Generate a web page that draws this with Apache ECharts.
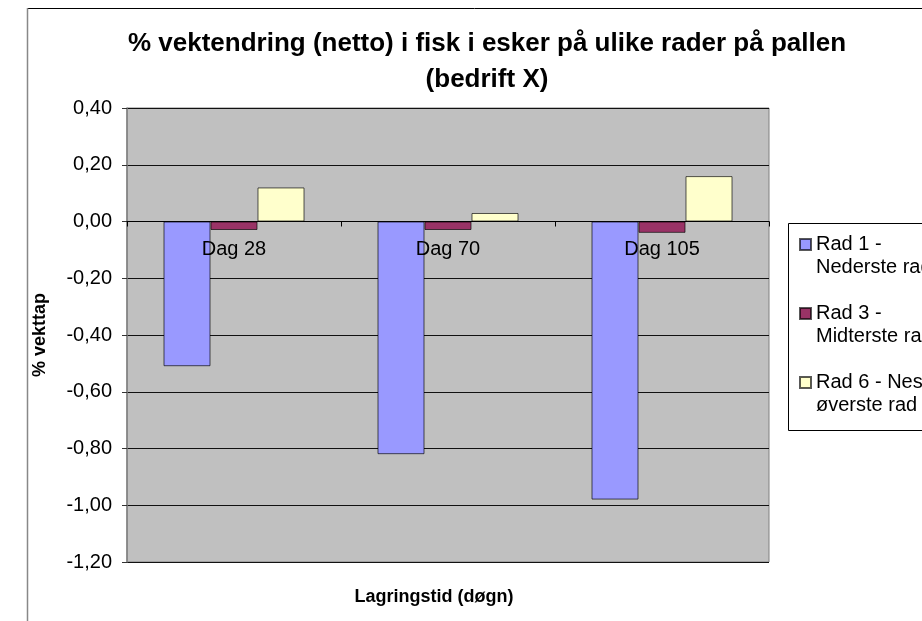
<!DOCTYPE html>
<html>
<head>
<meta charset="utf-8">
<script src="https://cdn.jsdelivr.net/npm/echarts@6/dist/echarts.min.js"></script>
<style>
  html, body { margin: 0; padding: 0; background: #fff; overflow: hidden; }
  #chart { width: 922px; height: 621px; }
</style>
</head>
<body>
<div id="chart"></div>
<script>
// data
const days = ['Dag 28', 'Dag 70', 'Dag 105'];
const rad1 = [-0.51, -0.82, -0.98];
const rad3 = [-0.03, -0.03, -0.04];
const rad6 = [0.12, 0.03, 0.16];
const seriesNames = ['Rad 1 - Nederste rad', 'Rad 3 - Midterste rad', 'Rad 6 - Nest øverste rad'];
const legendText = ['Rad 1 -\nNederste rad', 'Rad 3 -\nMidterste rad', 'Rad 6 - Nest\nøverste rad'];
const colors = ['#9999FF', '#993366', '#FFFFCC'];

const chart = echarts.init(document.getElementById('chart'));
const font = 'Liberation Sans, Arial, sans-serif';

const barStyle = (c) => ({ color: c, borderColor: 'rgba(0,0,0,0.65)', borderWidth: 1 });

const option = {
  animation: false,
  backgroundColor: '#fff',
  title: {
    text: '% vektendring (netto) i fisk i esker på ulike rader på pallen\n(bedrift X)',
    left: 487,
    top: 26,
    textAlign: 'center',
    padding: 0,
    textStyle: { fontFamily: font, fontSize: 26, fontWeight: 'bold', color: '#000', lineHeight: 36 }
  },
  legend: {
    orient: 'vertical',
    left: 799,
    top: 210,
    padding: 0,
    itemGap: 0,
    itemWidth: 11,
    itemHeight: 11,
    icon: 'rect',
    data: seriesNames,
    // empty first line keeps the marker level with the first text line
    formatter: (name) => '\n' + legendText[seriesNames.indexOf(name)],
    textStyle: { fontFamily: font, fontSize: 20, color: '#000', lineHeight: 23 }
  },
  graphic: [
    { type: 'line', shape: { x1: 27, y1: 8.5, x2: 922, y2: 8.5 }, style: { stroke: '#000', lineWidth: 1 } },
    { type: 'line', shape: { x1: 27.5, y1: 8, x2: 27.5, y2: 621 }, style: { stroke: '#888', lineWidth: 1.5 } },
    { type: 'rect', shape: { x: 788.5, y: 223.5, width: 200, height: 207 }, style: { fill: null, stroke: '#000', lineWidth: 1 } }
  ],
  grid: {
    left: 127, top: 108, right: 153, bottom: 59,
    show: true,
    backgroundColor: '#C0C0C0',
    borderColor: '#808080',
    borderWidth: 1,
    outerBoundsMode: 'none'
  },
  xAxis: {
    type: 'category',
    data: days,
    z: 10,
    // sit the category axis on the zero line
    offset: -340.5,
    name: 'Lagringstid (døgn)',
    nameLocation: 'middle',
    nameGap: 367,
    nameTextStyle: { fontFamily: font, fontSize: 18, fontWeight: 'bold', color: '#000', padding: [0, 28, 0, 0] },
    axisLine: { onZero: false, lineStyle: { color: '#000', width: 1 } },
    axisTick: { show: true, length: 5, inside: false, lineStyle: { color: '#000' } },
    axisLabel: { fontFamily: font, fontSize: 20, color: '#000', margin: 18 },
    splitLine: { show: false }
  },
  yAxis: {
    type: 'value',
    min: -1.2,
    max: 0.4,
    interval: 0.2,
    name: '% vekttap',
    nameLocation: 'middle',
    nameGap: 78,
    nameTextStyle: { fontFamily: font, fontSize: 18, fontWeight: 'bold', color: '#000' },
    axisLine: { show: true, lineStyle: { color: '#808080', width: 1.5 } },
    axisTick: { show: true, length: 5, inside: false, lineStyle: { color: '#333' } },
    axisLabel: {
      fontFamily: font, fontSize: 20, color: '#000', margin: 15,
      formatter: (v) => (Math.abs(v) < 1e-9 ? 0 : v).toFixed(2).replace('.', ',')
    },
    splitLine: { show: true, lineStyle: { color: '#111', width: 1 } }
  },
  series: [
    { name: seriesNames[0], type: 'bar', data: rad1, barWidth: 47, barGap: 0, itemStyle: barStyle(colors[0]) },
    { name: seriesNames[1], type: 'bar', data: rad3, barWidth: 47, barGap: 0, itemStyle: barStyle(colors[1]) },
    { name: seriesNames[2], type: 'bar', data: rad6, barWidth: 47, barGap: 0, itemStyle: barStyle(colors[2]) }
  ]
};

chart.setOption(option);
</script>
</body>
</html>
